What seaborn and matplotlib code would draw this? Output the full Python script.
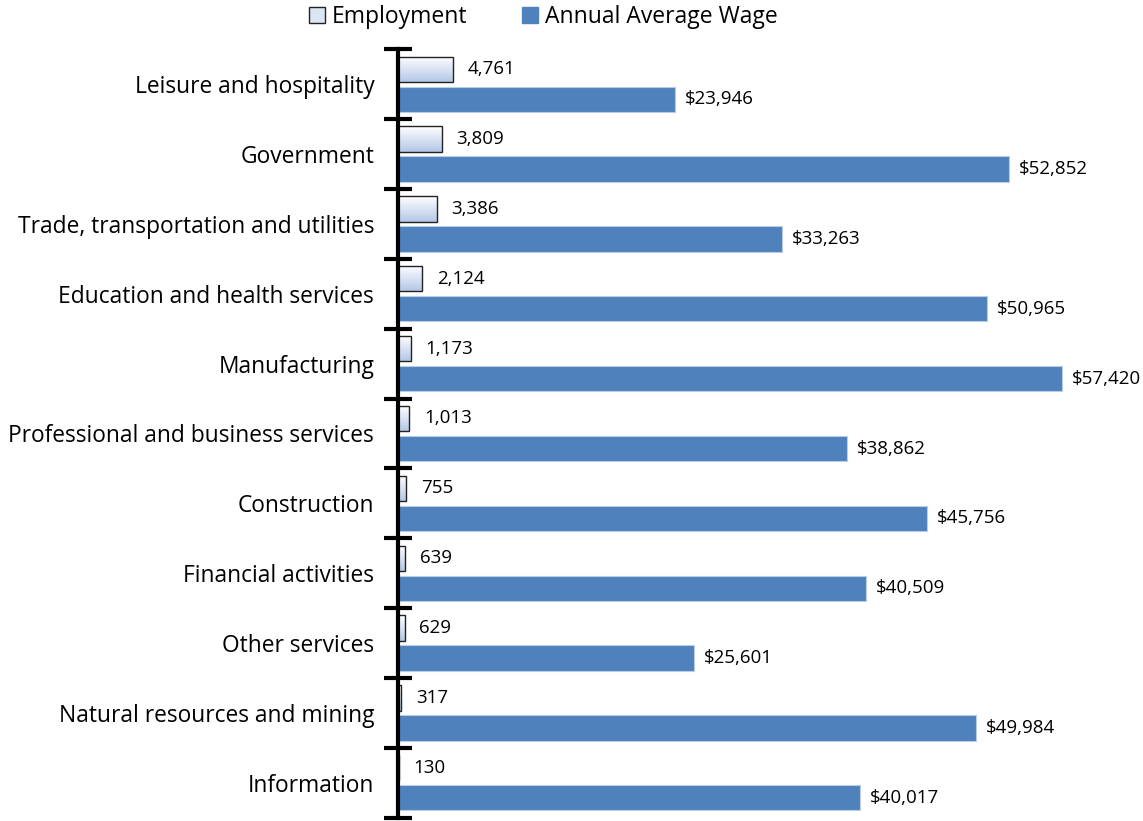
import numpy as np
import pandas as pd
import matplotlib
matplotlib.use("Agg")
import matplotlib.pyplot as plt
import seaborn as sns
from matplotlib.patches import Patch

# ---------- Data ----------
industries = [
    "Leisure and hospitality",
    "Government",
    "Trade, transportation and utilities",
    "Education and health services",
    "Manufacturing",
    "Professional and business services",
    "Construction",
    "Financial activities",
    "Other services",
    "Natural resources and mining",
    "Information",
]
employment = [4761, 3809, 3386, 2124, 1173, 1013, 755, 639, 629, 317, 130]
wages = [23946, 52852, 33263, 50965, 57420, 38862, 45756, 40509, 25601, 49984, 40017]

df = pd.DataFrame({"Industry": industries,
                   "Employment": employment,
                   "Annual Average Wage": wages})
long_df = df.melt(id_vars="Industry", var_name="Series", value_name="Value")

# ---------- Plot ----------
sns.set_style("white")
plt.rcParams["font.family"] = ["Open Sans", "DejaVu Sans"]
plt.rcParams["text.color"] = "black"
plt.rcParams["ytick.color"] = "black"
plt.rcParams["ytick.labelcolor"] = "black"

fig = plt.figure(figsize=(11.43, 8.21), dpi=100)
ax = fig.add_axes([0.348, 0.004, 0.607, 0.936])

sns.barplot(data=long_df, y="Industry", x="Value", hue="Series",
            hue_order=["Employment", "Annual Average Wage"],
            palette=["#dce6f2", "#4f81bd"], saturation=1, width=0.86, gap=0.16,
            orient="h", ax=ax, legend=False)

n = len(industries)
emp_bars = ax.patches[:n]
wage_bars = ax.patches[n:2 * n]

# gradient fill for employment bars
grad = np.linspace(0, 1, 64).reshape(-1, 1)
cmap = matplotlib.colors.LinearSegmentedColormap.from_list("g", ["#ffffff", "#b4c7e7"])
for p in emp_bars:
    p.set_edgecolor("#222222")
    p.set_linewidth(1.0)
    x0, y0 = p.get_x(), p.get_y()
    w, h = p.get_width(), p.get_height()
    p.set_facecolor("none")
    im = ax.imshow(grad, cmap=cmap, aspect="auto", extent=[x0, x0 + w, y0 + h, y0],
                   zorder=p.get_zorder() - 0.1, interpolation="bilinear")
    im.set_clip_path(p)

for p in wage_bars:
    p.set_edgecolor("#b9cde5")
    p.set_linewidth(0.8)

# value labels
for p, v in zip(emp_bars, employment):
    ax.text(p.get_x() + p.get_width() + 1250, p.get_y() + p.get_height() / 2,
            f"{v:,}", va="center", ha="left", fontsize=13.5)
for p, v in zip(wage_bars, wages):
    ax.text(p.get_x() + p.get_width() + 850, p.get_y() + p.get_height() / 2,
            f"${v:,}", va="center", ha="left", fontsize=13.5)

ax.set_xlim(0, 60000)
ax.set_ylim(n - 0.5, -0.5)
ax.set_xlabel("")
ax.set_ylabel("")
ax.set_xticks([])
for s in ["top", "right", "bottom"]:
    ax.spines[s].set_visible(False)
ax.spines["left"].set_linewidth(3)
ax.spines["left"].set_color("black")

ax.set_yticks(range(n))
ax.set_yticklabels(industries, fontsize=16.4)
ax.tick_params(axis="y", which="major", left=False, length=0, pad=17)
ax.set_yticks(np.arange(-0.5, n, 1.0), minor=True)
ax.tick_params(axis="y", which="minor", left=True, direction="inout", length=20,
               width=3, color="black")

# legend
handles = [Patch(facecolor="#dce6f2", edgecolor="#222222", linewidth=1.0, label="Employment"),
           Patch(facecolor="#4f81bd", edgecolor="#4f81bd", label="Annual Average Wage")]
fig.legend(handles=handles, loc="upper center", bbox_to_anchor=(0.4755, 1.019), ncol=2,
           frameon=False, fontsize=16.5, handlelength=0.7, handleheight=0.7,
           handletextpad=0.3, columnspacing=2.4)

fig.savefig("out.png", dpi=100)
